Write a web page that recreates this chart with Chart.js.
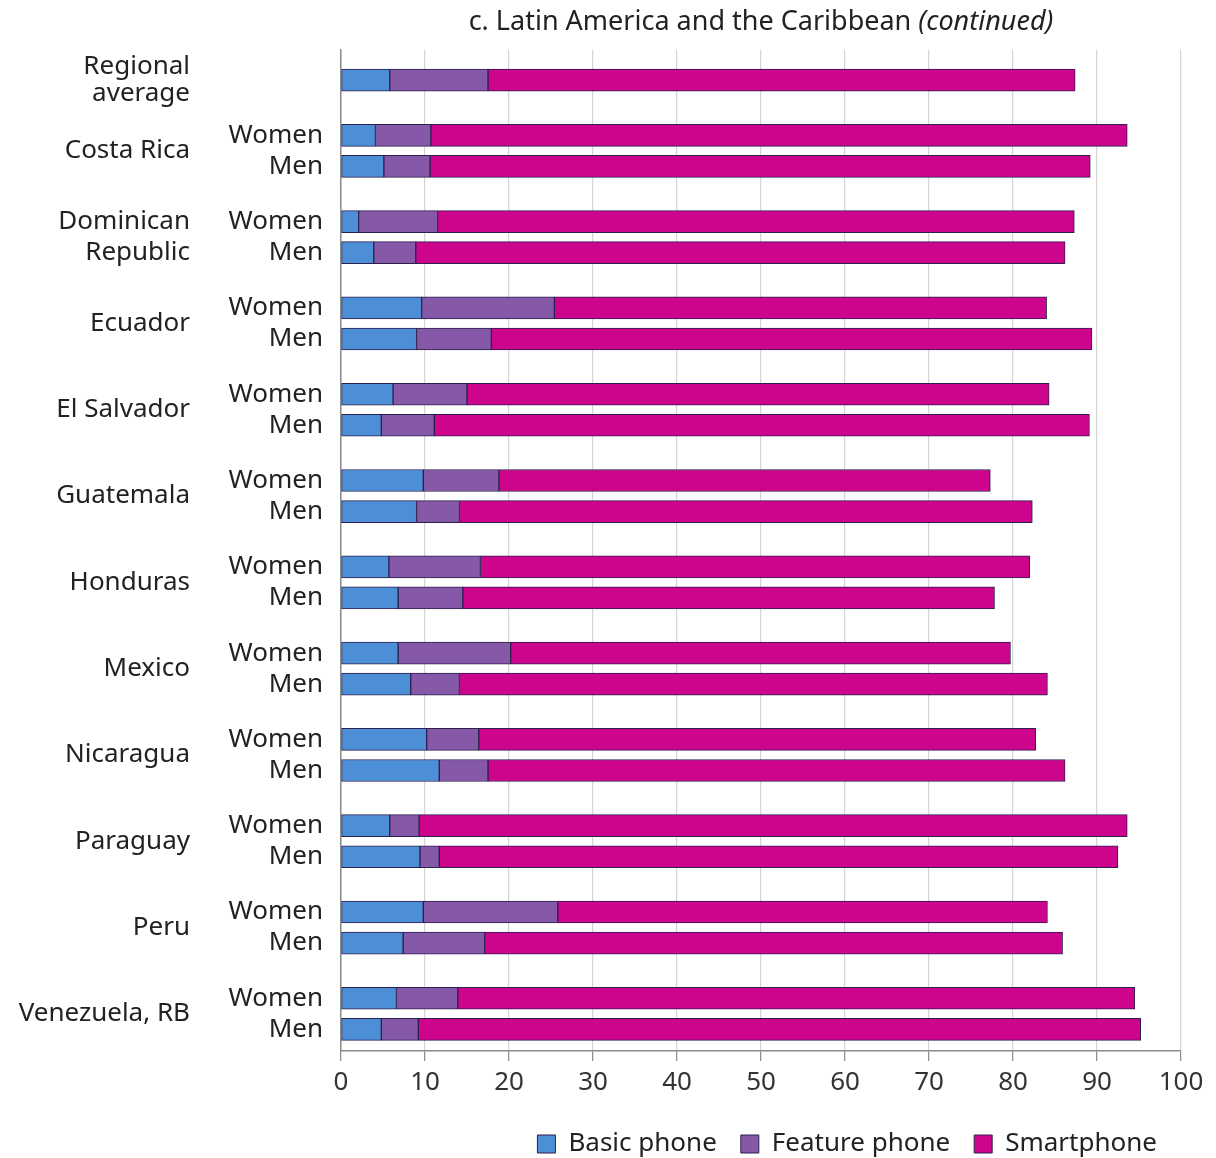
<!DOCTYPE html>
<html><head><meta charset="utf-8">
<script src="https://cdn.jsdelivr.net/npm/chart.js@4.4.0/dist/chart.umd.min.js"></script>
<style>html,body{margin:0;padding:0;background:#fff}</style>
</head><body>
<canvas id="c" width="1216" height="1158"></canvas>
<script>
// ---- Data ----
const titleMain = 'c. Latin America and the Caribbean ';
const titleItalic = '(continued)';
const groupLabels = ['Regional\naverage', 'Costa Rica', 'Dominican\nRepublic', 'Ecuador', 'El Salvador', 'Guatemala', 'Honduras', 'Mexico', 'Nicaragua', 'Paraguay', 'Peru', 'Venezuela, RB'];
const sexLabels = ['Women', 'Men'];
const seriesNames = ['Basic phone', 'Feature phone', 'Smartphone'];
const regionalValues = [5.8, 11.7, 69.9]; // basic, feature, smartphone
const basicWomen   = [4.1, 2.1, 9.6, 6.2, 9.8, 5.7, 6.8, 10.2, 5.8, 9.8, 6.6];
const basicMen     = [5.1, 3.9, 9.0, 4.8, 9.0, 6.8, 8.3, 11.7, 9.4, 7.4, 4.8];
const featureWomen = [6.6, 9.4, 15.8, 8.8, 9.0, 10.9, 13.4, 6.2, 3.5, 16.0, 7.3];
const featureMen   = [5.5, 5.0, 8.9, 6.3, 5.1, 7.7, 5.8, 5.8, 2.3, 9.7, 4.4];
const smartWomen   = [82.9, 75.8, 58.6, 69.3, 58.5, 65.4, 59.5, 66.3, 84.3, 58.3, 80.6];
const smartMen     = [78.6, 77.3, 71.5, 78.0, 68.2, 63.3, 70.0, 68.7, 80.8, 68.8, 86.0];
const xTicks = [0, 10, 20, 30, 40, 50, 60, 70, 80, 90, 100];

// ---- Build rows ----
const OFF = 0.18;
const rows = [];
rows.push({pos: OFF, vals: regionalValues, sex: ''});
for (let g = 1; g < groupLabels.length; g++) {
  const i = g - 1;
  rows.push({pos: g - OFF, vals: [basicWomen[i], featureWomen[i], smartWomen[i]], sex: sexLabels[0]});
  rows.push({pos: g + OFF, vals: [basicMen[i], featureMen[i], smartMen[i]], sex: sexLabels[1]});
}
const groupPos = groupLabels.map((_, g) => g === 0 ? OFF : g);
const sexRows = rows.filter(r => r.sex);
const Y_MIN = -0.169, Y_MAX = 11.431;

const colors = ['#4d8fd6', '#8659a8', '#cc058c'];
const edge = '#2e1f4f';
const FAMILY = '"Noto Sans", "Open Sans", sans-serif';
Chart.defaults.font.family = FAMILY;
Chart.defaults.color = '#222';

const datasets = seriesNames.map((name, s) => ({
  label: name,
  data: rows.map(r => ({x: r.vals[s], y: r.pos})),
  backgroundColor: colors[s],
  borderColor: edge,
  borderWidth: 1,
  borderSkipped: false,
  barThickness: 22
}));

const titlePlugin = {
  id: 'titleText',
  afterDraw(chart) {
    const ctx = chart.ctx, ca = chart.chartArea;
    ctx.save();
    ctx.fillStyle = '#222';
    ctx.textBaseline = 'middle';
    ctx.textAlign = 'left';
    const f1 = '27px ' + FAMILY, f2 = 'italic 27px ' + FAMILY;
    ctx.font = f1; const w1 = ctx.measureText(titleMain).width;
    ctx.font = f2; const w2 = ctx.measureText(titleItalic).width;
    const x = (ca.left + ca.right) / 2 - (w1 + w2) / 2;
    ctx.font = f1; ctx.fillText(titleMain, x, 22);
    ctx.font = f2; ctx.fillText(titleItalic, x + w1, 22);
    ctx.restore();
  }
};

new Chart(document.getElementById('c'), {
  type: 'bar',
  data: {datasets},
  options: {
    indexAxis: 'y',
    responsive: false,
    animation: false,
    layout: {padding: {top: 50, right: 35, bottom: -9, left: 0}},
    plugins: {
      tooltip: {enabled: false},
      legend: {
        position: 'bottom', align: 'end',
        labels: {boxWidth: 18, boxHeight: 18, padding: 24, color: '#222', font: {size: 26}}
      }
    },
    scales: {
      x: {
        type: 'linear', min: 0, max: 100, stacked: true, position: 'bottom',
        afterBuildTicks: s => { s.ticks = xTicks.map(v => ({value: v})); },
        grid: {color: '#d4d4d4', lineWidth: 1.2, tickLength: 10, tickColor: '#8a8a8a', drawTicks: true},
        border: {display: true, color: '#8a8a8a', width: 1.5},
        ticks: {font: {size: 26}, color: '#333', padding: 6, maxRotation: 0, autoSkip: false},
        afterFit: s => { s.height = 56; }
      },
      y: {
        type: 'linear', min: Y_MIN, max: Y_MAX, reverse: true, stacked: true, offset: false, position: 'left', weight: 0,
        afterBuildTicks: s => { s.ticks = sexRows.map(r => ({value: r.pos})); },
        ticks: {callback: (v, i) => sexRows[i] ? sexRows[i].sex : '', font: {size: 26}, color: '#222', padding: 18, autoSkip: false},
        grid: {display: false, drawTicks: false, offset: false},
        border: {display: true, color: '#8a8a8a', width: 1.5},
        afterFit: s => { s.width = 141; }
      },
      yc: {
        type: 'linear', min: Y_MIN, max: Y_MAX, reverse: true, offset: false, position: 'left', weight: 1,
        afterBuildTicks: s => { s.ticks = groupPos.map(v => ({value: v})); },
        ticks: {
          callback: (v, i) => groupLabels[i] ? groupLabels[i].split('\n') : '',
          font: ctx => ({size: 26, family: FAMILY, lineHeight: ctx.index === 0 ? 1.03 : 1.22}),
          color: '#222', padding: 10, autoSkip: false
        },
        grid: {display: false, drawTicks: false, offset: false},
        border: {display: false},
        afterFit: s => { s.width = 200; }
      }
    }
  },
  plugins: [titlePlugin]
});
</script>
</body></html>
